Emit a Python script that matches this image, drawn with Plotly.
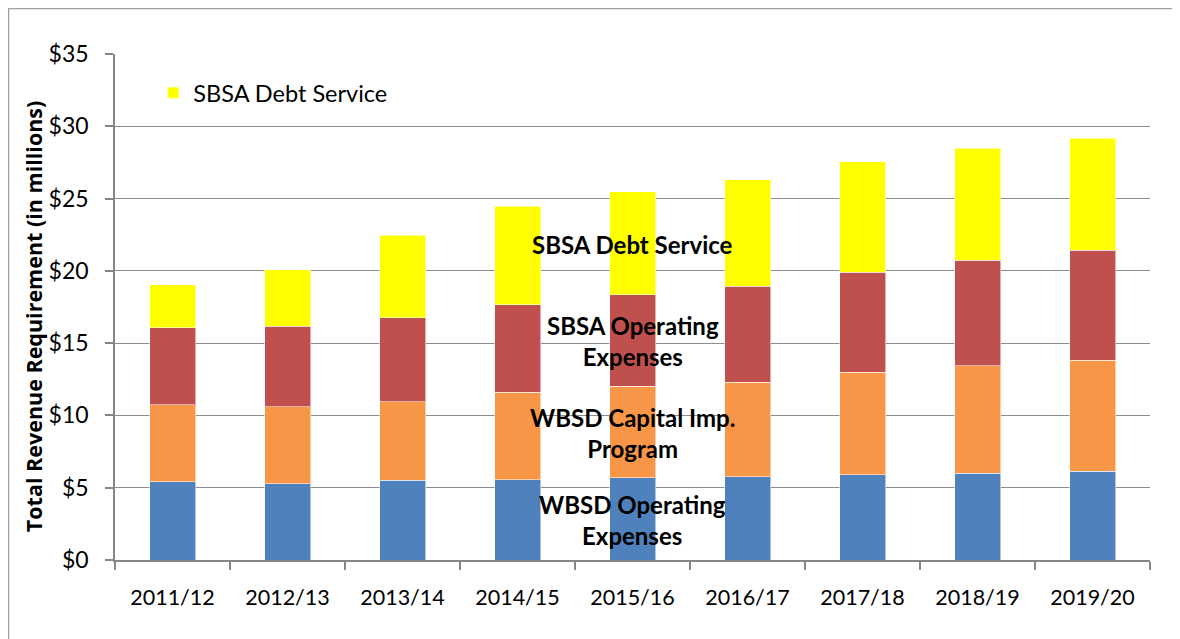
import plotly.graph_objects as go

years = ["2011/12", "2012/13", "2013/14", "2014/15", "2015/16", "2016/17", "2017/18", "2018/19", "2019/20"]
wbsd_operating = [5.42, 5.29, 5.50, 5.54, 5.70, 5.77, 5.91, 6.01, 6.15]
wbsd_capital = [5.32, 5.31, 5.45, 6.08, 6.31, 6.52, 7.07, 7.43, 7.66]
sbsa_operating = [5.34, 5.57, 5.82, 6.05, 6.35, 6.65, 6.93, 7.28, 7.62]
sbsa_debt = [2.96, 3.91, 5.68, 6.79, 7.12, 7.35, 7.65, 7.76, 7.75]

y_ticks = [0, 5, 10, 15, 20, 25, 30, 35]
y_labels = ["$0", "$5", "$10", "$15", "$20", "$25", "$30", "$35"]

FONT = "Lato, Calibri, sans-serif"
edge = dict(width=1, color="rgba(255,255,255,0.55)")

fig = go.Figure()
fig.add_trace(go.Bar(x=years, y=wbsd_operating, name="WBSD Operating Expenses",
                     marker=dict(color="#4F81BD", line=edge), showlegend=False))
fig.add_trace(go.Bar(x=years, y=wbsd_capital, name="WBSD Capital Imp. Program",
                     marker=dict(color="#F79646", line=edge), showlegend=False))
fig.add_trace(go.Bar(x=years, y=sbsa_operating, name="SBSA Operating Expenses",
                     marker=dict(color="#C0504D", line=edge), showlegend=False))
fig.add_trace(go.Bar(x=years, y=sbsa_debt, name="SBSA Debt Service",
                     marker=dict(color="#FFFF00", line=edge), showlegend=True))

ann_font = dict(family=FONT, size=24, color="black")
for txt, yv in [("<b>SBSA Debt Service</b>", 21.8),
                ("<b>SBSA Operating<br>Expenses</b>", 15.15),
                ("<b>WBSD Capital Imp.<br>Program</b>", 8.8),
                ("<b>WBSD Operating<br>Expenses</b>", 2.8)]:
    fig.add_annotation(x="2015/16", y=yv, xref="x", yref="y", text=txt,
                       showarrow=False, font=ann_font, align="center")

# y-axis title as rotated text
fig.add_annotation(x=-0.0792, y=0.48, xref="paper", yref="paper",
                   text="<b>Total Revenue Requirement (in millions)</b>",
                   textangle=-90, showarrow=False, xanchor="center", yanchor="middle",
                   font=dict(family="Open Sans", size=21.5, color="black"))

fig.add_shape(type="rect", xref="paper", yref="paper",
              x0=-0.1029, x1=1.08, y0=-0.25, y1=1.09,
              line=dict(color="#A0A0A0", width=1.5), fillcolor="rgba(0,0,0,0)",
              layer="below")

fig.update_layout(
    barmode="stack",
    bargap=0.6,
    width=1180, height=639,
    margin=dict(l=107, r=38, t=46, b=87),
    paper_bgcolor="white",
    plot_bgcolor="white",
    font=dict(family=FONT, size=20, color="black"),
    legend=dict(x=0.037, y=0.923, xanchor="left", yanchor="middle",
                bgcolor="rgba(0,0,0,0)", font=dict(family=FONT, size=23.5),
                itemsizing="constant"),
    xaxis=dict(
        type="category",
        showline=True, linecolor="#868686", linewidth=1.5,
        ticks="outside", tickson="boundaries", ticklen=8, tickcolor="#868686", tickwidth=1.5,
        tickfont=dict(family=FONT, size=21.5),
        ticklabelstandoff=17,
        showgrid=False,
    ),
    yaxis=dict(
        range=[0, 35],
        tickvals=y_ticks, ticktext=y_labels,
        showline=True, linecolor="#868686", linewidth=1.5,
        ticks="outside", ticklen=8, tickcolor="#868686", tickwidth=1.5,
        tickfont=dict(family=FONT, size=23),
        ticklabelstandoff=12,
        showgrid=True, gridcolor="#8C8C8C", gridwidth=1,
        zeroline=False,
    ),
)

fig.write_html("out.html")
